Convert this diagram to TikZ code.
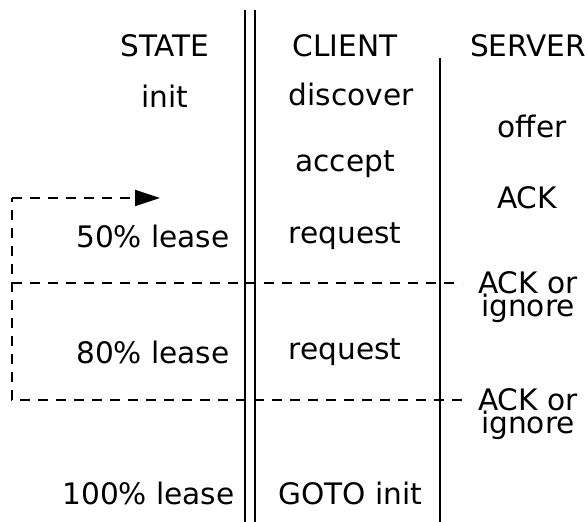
\documentclass[tikz,border=0pt]{standalone}
\usepackage{fontspec}
\setmainfont{DejaVu Sans}
\usetikzlibrary{arrows.meta,positioning}

\begin{document}
\begin{tikzpicture}[x=0.5pt, y=-0.5pt, >={Triangle[width=8pt,length=12.5pt]}, lbl/.style={inner sep=0pt, font=\fontsize{14.8}{15}\selectfont}, sep/.style={line width=1pt}, dsep/.style={line width=1pt, dash pattern=on 5pt off 4pt}]
\useasboundingbox (0,0) rectangle (585,522);
% column headings
\draw (165, 46)node[lbl](state){STATE};
\draw (345, 46)node[lbl](client){CLIENT};
\draw (528, 46)node[lbl](server){SERVER};
% state column
\draw (165, 96)node[lbl](init){init};
\draw (230, 236)node[lbl, anchor=east](l50){50\% lease};
\draw (230, 352)node[lbl, anchor=east](l80){80\% lease};
\draw (235, 493)node[lbl, anchor=east](l100){100\% lease};
% client column
\draw (351, 94)node[lbl](discover){discover};
\draw (345, 164)node[lbl](accept){accept};
\draw (345, 236)node[lbl](req1){request};
\draw (345, 352)node[lbl](req2){request};
\draw (350, 493)node[lbl](goto){GOTO init};
% server column
\draw (532, 126)node[lbl](offer){offer};
\draw (527, 198)node[lbl](ack){ACK};
\draw (528, 294)node[lbl, align=center, text depth=0pt](ack1){ACK or\\[-3.5pt]ignore};
\draw (528, 411)node[lbl, align=center, text depth=0pt](ack2){ACK or\\[-3.5pt]ignore};
% separators
\coordinate (d1a) at (245, 10);
\coordinate (d1b) at (245, 522);
\coordinate (d2a) at (255, 10);
\coordinate (d2b) at (255, 522);
\coordinate (s1a) at (440, 58);
\coordinate (s1b) at (440, 522);
\draw[sep] (d1a) -- (d1b);
\draw[sep] (d2a) -- (d2b);
\draw[sep] (s1a) -- (s1b);
% renewal loop
\coordinate (top) at (12, 198);
\coordinate (tip) at (160, 198);
\coordinate (mida) at (12, 283);
\coordinate (midb) at (462, 283);
\coordinate (bota) at (12, 400);
\coordinate (botb) at (462, 400);
\draw[dsep] (botb) -- (bota) -- (top);
\draw[dsep, ->] (top) -- (tip);
\draw[dsep] (mida) -- (midb);
\end{tikzpicture}
\end{document}
